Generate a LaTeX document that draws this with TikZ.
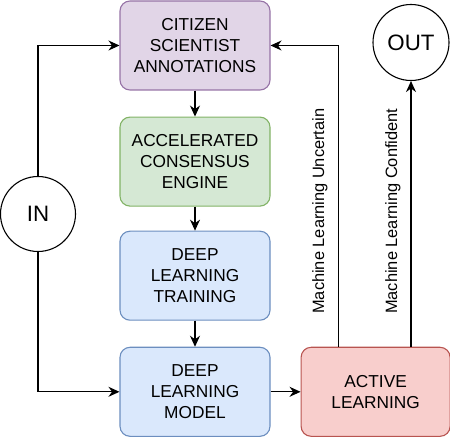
\documentclass[tikz,border=0pt]{standalone}
\usepackage{fontspec}
\setsansfont{Liberation Sans}
\usetikzlibrary{arrows.meta,calc,positioning}

\begin{document}
\begin{tikzpicture}[
  x=1pt, y=-1pt,
  font=\sffamily\fontsize{17.3}{20.8}\selectfont,
  >={Stealth[length=11pt,width=10pt]},
  stage/.style={draw, rounded corners=10pt, line width=1.1pt,
    minimum width=150pt, minimum height=89pt, align=center, inner sep=2pt},
  term/.style={draw, circle, line width=1.1pt, minimum size=75pt, inner sep=0pt,
    font=\sffamily\fontsize{22.3}{26}\selectfont},
  arrow/.style={->, draw=black, line width=1.1pt},
  vlabel/.style={rotate=90, anchor=south, inner xsep=0pt, inner ysep=10pt,
    font=\sffamily\fontsize{16.4}{20}\selectfont}
]
\definecolor{cpurple}{HTML}{E1D5E7}
\definecolor{lpurple}{HTML}{9673A6}
\definecolor{cgreen}{HTML}{D5E8D4}
\definecolor{lgreen}{HTML}{82B366}
\definecolor{cblue}{HTML}{DAE8FC}
\definecolor{lblue}{HTML}{6C8EBF}
\definecolor{cred}{HTML}{F8CECC}
\definecolor{lred}{HTML}{B85450}

\useasboundingbox (0,0) rectangle (450,438);

\node[stage, fill=cpurple, draw=lpurple] (citizen) at (195,45.5)
  {CITIZEN\\SCIENTIST\\ANNOTATIONS};
\node[stage, below=26pt of citizen, fill=cgreen, draw=lgreen] (consensus)
  {ACCELERATED\\CONSENSUS\\ENGINE};
\node[stage, below=24pt of consensus, fill=cblue, draw=lblue] (training)
  {DEEP\\LEARNING\\TRAINING};
\node[stage, below=26pt of training, fill=cblue, draw=lblue] (model)
  {DEEP\\LEARNING\\MODEL};
\node[stage, right=30pt of model, minimum width=149pt, fill=cred, draw=lred] (active)
  {ACTIVE\\LEARNING};

\node[term] (in) at (38,214) {IN};
\node[term, minimum size=76pt] (out) at (411,42.5) {OUT};

\draw[arrow] (citizen) -- (consensus);
\draw[arrow] (consensus) -- (training);
\draw[arrow] (training) -- (model);
\draw[arrow] (model) -- (active);
\draw[arrow] (in.north) |- (citizen.west);
\draw[arrow] (in.south) |- (model.west);

\coordinate (unc) at ($(active.north west)!0.25!(active.north east)$);
\coordinate (conf) at (out.south |- active.north);
\draw[arrow] (unc) -- node[vlabel, pos=0.45] (unclbl) {Machine Learning Uncertain}
  (unc |- citizen.east) -- (citizen.east);
\draw[arrow] (conf) -- node[vlabel, pos=0.51] (conflbl) {Machine Learning Confident}
  (out.south);
\end{tikzpicture}
\end{document}
